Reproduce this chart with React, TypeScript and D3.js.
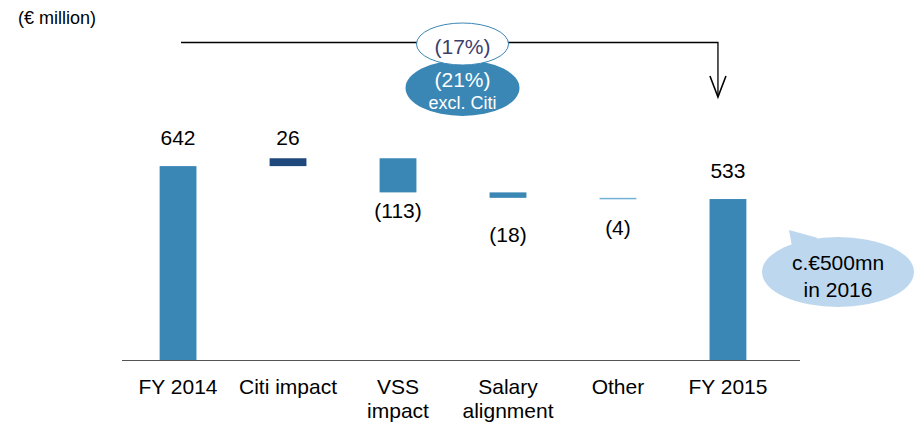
import { useEffect, useRef } from "react";
import * as d3 from "d3";

const categories = ["FY 2014", "Citi impact", "VSS impact", "Salary alignment", "Other", "FY 2015"];
const categoryLines = [["FY 2014"], ["Citi impact"], ["VSS", "impact"], ["Salary", "alignment"], ["Other"], ["FY 2015"]];
const values = [642, 26, -113, -18, -4, 533];
const isTotal = [true, false, false, false, false, true];
const valueLabels = ["642", "26", "(113)", "(18)", "(4)", "533"];
const barColors = ["#3a87b5", "#1f497d", "#3a87b5", "#3a87b5", "#72b2d6", "#3a87b5"];

const changeLabel = "(17%)";
const changeExclLabel = ["(21%)", "excl. Citi"];
const outlookLabel = ["c.€500mn", "in 2016"];

export default function App() {
    const svgRef = useRef<SVGSVGElement>(null);
    const width = 916;
    const height = 425;

    useEffect(() => {
        const svg = d3.select(svgRef.current);
        svg.selectAll("*").remove();
        const font = "Arial, 'Liberation Sans', sans-serif";

        // waterfall steps
        let running = 0;
        const bars = values.map((v, i) => {
            let y0, y1;
            if (isTotal[i]) {
                y0 = 0;
                y1 = v;
                running = v;
            } else {
                y0 = running;
                y1 = running + v;
                running = y1;
            }
            return { cat: categories[i], v, lo: Math.min(y0, y1), hi: Math.max(y0, y1), i };
        });

        const x = d3.scaleBand().domain(categories).range([123, 783]).paddingInner(0.665).paddingOuter(0.333);
        const y = d3.scaleLinear().domain([0, 700]).range([360, 148.6]);

        // gap between bar and its value label
        const labelGap = [21, 13, 26, 44, 36, 21];

        svg.append("text")
            .attr("x", 18)
            .attr("y", 24)
            .style("font-family", font)
            .style("font-size", "18px")
            .text("(€ million)");

        svg.selectAll("rect.bar")
            .data(bars)
            .enter()
            .append("rect")
            .attr("class", "bar")
            .attr("x", (d) => x(d.cat)!)
            .attr("y", (d) => y(d.hi))
            .attr("width", x.bandwidth())
            .attr("height", (d) => Math.max(1.5, y(d.lo) - y(d.hi)))
            .attr("fill", (d) => barColors[d.i]);

        svg.append("line")
            .attr("x1", 122)
            .attr("x2", 800)
            .attr("y1", y(0) + 0.5)
            .attr("y2", y(0) + 0.5)
            .attr("stroke", "#555")
            .attr("stroke-width", 1.2);

        svg.selectAll("text.val")
            .data(bars)
            .enter()
            .append("text")
            .attr("class", "val")
            .attr("x", (d) => x(d.cat)! + x.bandwidth() / 2)
            .attr("y", (d) => (d.v >= 0 ? y(d.hi) - labelGap[d.i] : y(d.lo) + labelGap[d.i]))
            .attr("text-anchor", "middle")
            .style("font-family", font)
            .style("font-size", "21px")
            .text((d) => valueLabels[d.i]);

        const cats = svg.selectAll("text.cat")
            .data(categories)
            .enter()
            .append("text")
            .attr("class", "cat")
            .attr("x", (d) => x(d)! + x.bandwidth() / 2)
            .attr("y", 394)
            .attr("text-anchor", "middle")
            .style("font-family", font)
            .style("font-size", "21px");
        cats.selectAll("tspan")
            .data((d, i) => categoryLines[i])
            .enter()
            .append("tspan")
            .attr("x", function () {
                return (this.parentNode as SVGTextElement).getAttribute("x");
            })
            .attr("dy", (d, j) => (j === 0 ? 0 : 24))
            .text((d) => d);

        // bracket from FY 2014 to FY 2015
        const xa = x("FY 2014")! + x.bandwidth() / 2 + 3;
        const xb = x("FY 2015")! + x.bandwidth() / 2 - 10;
        const yTop = 42.5;
        svg.append("path")
            .attr("d", `M${xa},${yTop}H${xb}V97`)
            .attr("fill", "none")
            .attr("stroke", "#000")
            .attr("stroke-width", 1.3);
        svg.append("path")
            .attr("d", `M${xb - 8},${76}L${xb},${97}L${xb + 8},${76}`)
            .attr("fill", "none")
            .attr("stroke", "#000")
            .attr("stroke-width", 1.6);

        const cx = (xa + xb) / 2 + 13;
        svg.append("ellipse")
            .attr("cx", cx)
            .attr("cy", 88)
            .attr("rx", 57)
            .attr("ry", 28)
            .attr("fill", "#3a87b5");
        svg.append("ellipse")
            .attr("cx", cx)
            .attr("cy", 44)
            .attr("rx", 46)
            .attr("ry", 21)
            .attr("fill", "#fff")
            .attr("stroke", "#3a87b5")
            .attr("stroke-width", 1);
        svg.append("text")
            .attr("x", cx)
            .attr("y", 54)
            .attr("text-anchor", "middle")
            .attr("fill", "#3b3e6b")
            .style("font-family", font)
            .style("font-size", "21px")
            .text(changeLabel);
        svg.append("text")
            .attr("x", cx)
            .attr("y", 87)
            .attr("text-anchor", "middle")
            .attr("fill", "#fff")
            .style("font-family", font)
            .style("font-size", "21px")
            .text(changeExclLabel[0]);
        svg.append("text")
            .attr("x", cx)
            .attr("y", 109)
            .attr("text-anchor", "middle")
            .attr("fill", "#fff")
            .style("font-family", font)
            .style("font-size", "18px")
            .text(changeExclLabel[1]);

        // callout bubble
        svg.append("path")
            .attr("d", "M789,230L793,252L818,238Z")
            .attr("fill", "#bdd7ee");
        svg.append("ellipse")
            .attr("cx", 838)
            .attr("cy", 272)
            .attr("rx", 76)
            .attr("ry", 35)
            .attr("fill", "#bdd7ee");
        svg.append("text")
            .attr("x", 838)
            .attr("y", 270)
            .attr("text-anchor", "middle")
            .style("font-family", font)
            .style("font-size", "21px")
            .text(outlookLabel[0]);
        svg.append("text")
            .attr("x", 838)
            .attr("y", 297)
            .attr("text-anchor", "middle")
            .style("font-family", font)
            .style("font-size", "21px")
            .text(outlookLabel[1]);
    }, []);

    return (
        <svg
            ref={svgRef}
            width={width}
            height={height}
            style={{ position: "absolute", left: 0, top: 0, background: "#fff" }}
        ></svg>
    );
}
